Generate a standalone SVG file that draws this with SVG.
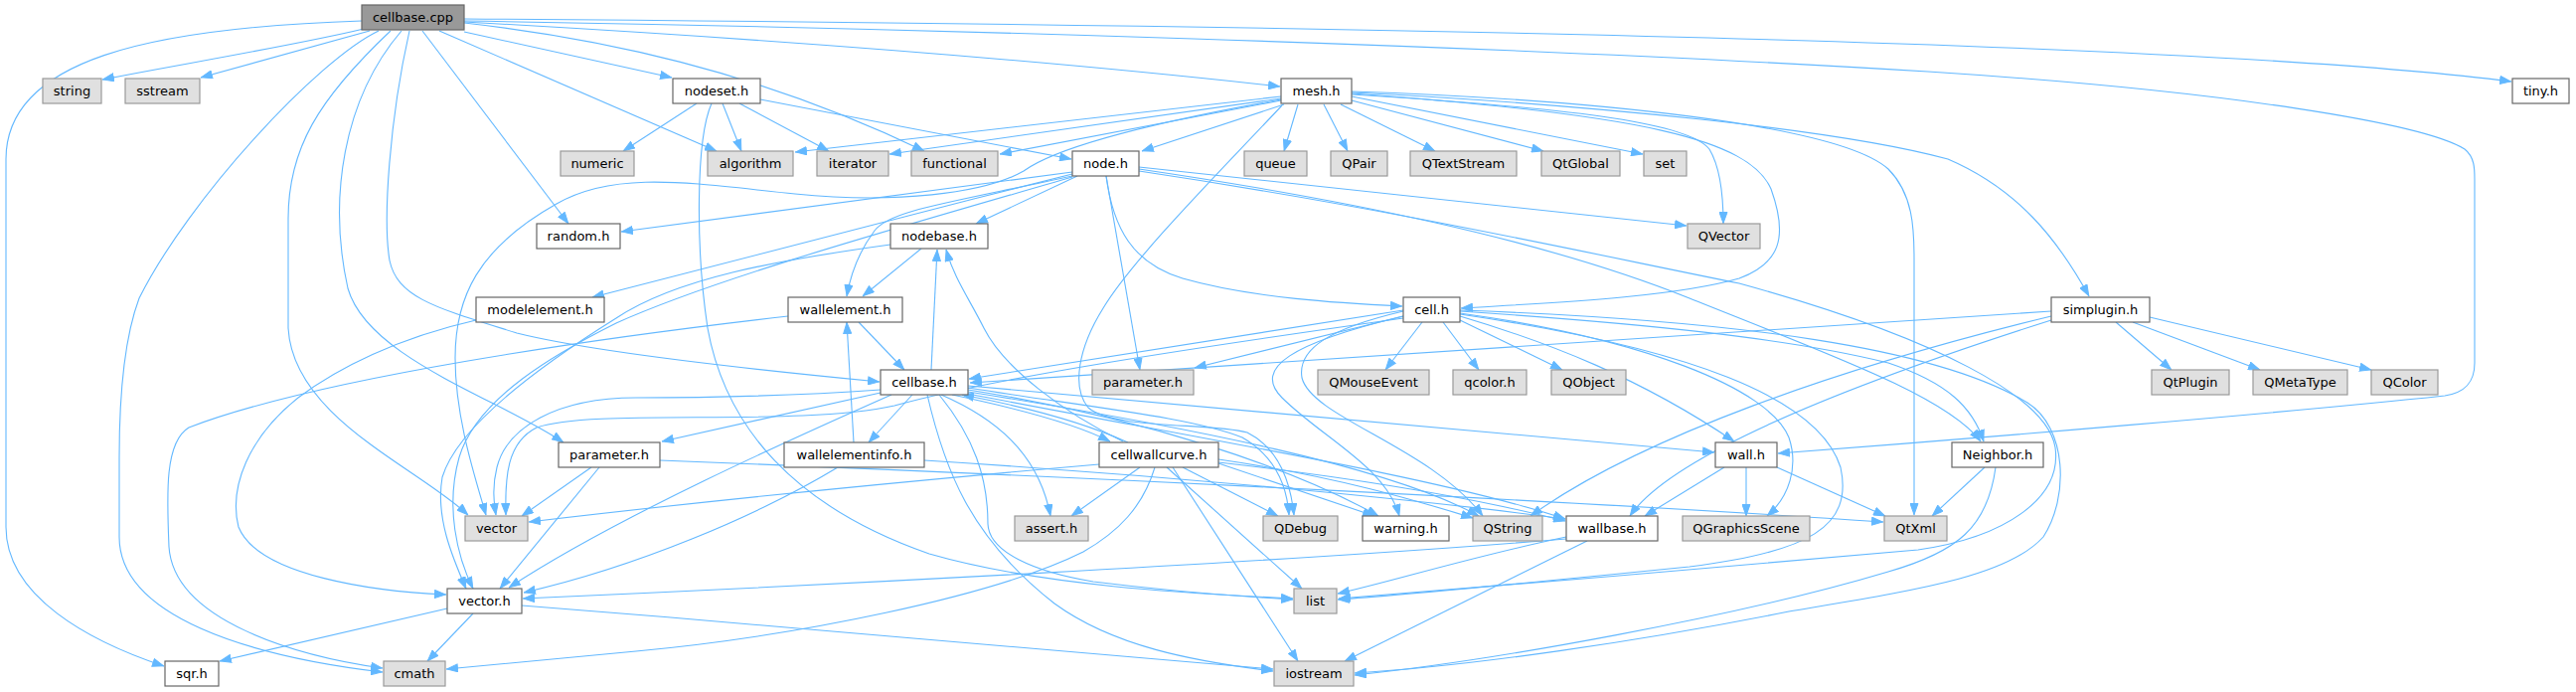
<svg xmlns="http://www.w3.org/2000/svg" width="2592" height="696" viewBox="0 0 2592 696">
<defs>
<marker id="a" viewBox="0 0 12 9" refX="12" refY="4.5" markerWidth="12" markerHeight="9" markerUnits="userSpaceOnUse" orient="auto">
<path d="M0.5,0.5 L11.5,4.5 L0.5,8.5 z" fill="#63b8ff" stroke="#63b8ff" stroke-width="1"/>
</marker>
<style>
.e path{fill:none;stroke:#63b8ff;stroke-width:1.1;marker-end:url(#a)}
.n rect{fill:#ffffff;stroke:#666666;stroke-width:1.2}
.g rect{fill:#e0e0e0;stroke:#999999;stroke-width:1.2}
.r rect{fill:#999999;stroke:#666666;stroke-width:1.2}
text{font-family:"DejaVu Sans","Liberation Sans",sans-serif;font-size:13px;text-anchor:middle;fill:#000000}
</style>
</defs>
<rect width="2592" height="696" fill="#ffffff"/>
<g id="edges" class="e">
<!-- cellbase.cpp -->
<path d="M366,29 C300,45 180,65 103,80"/>
<path d="M372,31 L202,78"/>
<path d="M364,21 C150,28 6,60 6,160 L6,530 C6,600 90,645 165,670"/>
<path d="M381,31 C320,60 190,200 140,300 C125,340 120,400 120,460 L120,540 C120,620 250,660 385,676"/>
<path d="M393,31 C320,100 290,150 290,220 L290,330 C295,420 420,470 471,518"/>
<path d="M404,31 C345,100 330,200 350,290 C370,360 500,400 567,445"/>
<path d="M412,31 C392,120 385,220 392,262 C400,300 440,310 520,335 C600,355 760,372 885,384"/>
<path d="M425,31 L572,225"/>
<path d="M442,31 L721,152"/>
<path d="M467,32 L676,78"/>
<path d="M467,23 C600,38 760,70 930,152"/>
<path d="M467,22 C700,35 1000,55 1288,87"/>
<path d="M467,19 C1300,25 2200,40 2527,82"/>
<path d="M467,21 C900,28 1500,45 1940,72 C2250,92 2440,125 2480,150 C2490,158 2490,170 2490,180 L2490,365 C2490,385 2480,395 2460,398 C2300,415 2000,440 1789,456"/>
<!-- nodeset.h -->
<path d="M701,104 L627,152"/>
<path d="M727,104 L746,152"/>
<path d="M744,104 L834,152"/>
<path d="M765,100 L1078,160"/>
<path d="M716,104 C700,140 700,250 712,330 C730,430 800,510 935,557 C1050,590 1200,597 1301,602"/>
<!-- mesh.h -->
<path d="M1289,97 L800,153"/>
<path d="M1289,99 L895,155"/>
<path d="M1289,101 L1006,155"/>
<path d="M1292,105 L1149,152"/>
<path d="M1306,105 L1292,152"/>
<path d="M1332,105 L1356,152"/>
<path d="M1349,105 L1444,152"/>
<path d="M1360,101 L1553,152"/>
<path d="M1360,97 L1653,155"/>
<path d="M1360,95 C1600,110 1700,125 1720,150 C1732,170 1734,200 1734,225"/>
<path d="M1360,94 C1650,115 1760,140 1782,190 C1800,240 1790,265 1750,280 C1680,300 1550,305 1470,310"/>
<path d="M1360,93 C1600,105 1850,130 1960,160 C2030,190 2070,240 2102,298"/>
<path d="M1360,92 C1600,100 1850,125 1900,170 C1925,195 1926,230 1926,260 L1926,518"/>
<path d="M1289,100 C1150,125 1060,150 1030,172 C990,195 900,205 800,195 C700,185 620,170 560,205 C480,250 458,300 458,360 C458,420 478,480 489,518"/>
<path d="M1290,106 C1230,170 1140,260 1110,310 C1085,350 1078,390 1095,410 C1120,432 1220,425 1255,435 C1285,450 1298,480 1302,518"/>
<!-- node.h -->
<path d="M1079,173 L625,233"/>
<path d="M1079,175 C900,220 700,272 596,299"/>
<path d="M1084,177 L982,225"/>
<path d="M1079,177 C950,205 895,212 880,232 C865,252 856,275 852,298"/>
<path d="M1079,178 C900,230 720,280 620,325 C560,355 480,400 462,460 C448,510 460,560 476,592"/>
<path d="M1113,177 C1120,230 1140,265 1190,280 C1260,300 1350,305 1411,308"/>
<path d="M1113,177 L1147,372"/>
<path d="M1146,168 L1697,227"/>
<path d="M1146,170 C1350,200 1550,240 1700,300 C1850,360 1960,400 1993,444"/>
<path d="M1146,172 C1400,210 1600,255 1750,285 C1950,340 2060,400 2068,450 C2075,500 2020,540 1930,553 C1800,565 1500,590 1347,602"/>
<!-- nodebase.h -->
<path d="M927,250 L868,298"/>
<path d="M896,246 C780,262 680,280 620,320 C540,370 460,430 445,480 C438,520 455,560 469,592"/>
<!-- cellbase.h -->
<path d="M937,372 L943,251"/>
<path d="M958,397 C1020,410 1080,425 1117,444"/>
<path d="M918,397 L874,445"/>
<path d="M886,395 L666,444"/>
<path d="M897,397 C800,440 620,520 512,591"/>
<path d="M886,392 C800,398 720,400 640,400 C560,400 510,430 500,470 C495,490 497,505 499,518"/>
<path d="M947,397 C1000,420 1045,455 1057,519"/>
<path d="M933,397 C950,470 975,540 1061,607 C1120,650 1200,665 1281,675"/>
<path d="M945,397 C980,440 994,480 994,527 C995,555 1040,575 1100,585 C1180,595 1250,600 1301,603"/>
<path d="M974,390 C1100,410 1200,420 1250,440 C1285,460 1295,490 1297,518"/>
<path d="M974,388 L1725,455"/>
<path d="M974,392 C1150,420 1300,470 1387,519"/>
<path d="M974,394 C1200,430 1400,470 1488,519"/>
<path d="M974,396 C1200,440 1450,480 1575,522"/>
<!-- wall.h -->
<path d="M1735,470 L1655,519"/>
<path d="M1757,470 L1757,519"/>
<path d="M1788,470 L1897,519"/>
<!-- cell.h -->
<path d="M1412,312 L975,381"/>
<path d="M1412,318 L1202,370"/>
<path d="M1431,324 L1394,372"/>
<path d="M1452,324 L1488,372"/>
<path d="M1469,322 L1572,372"/>
<path d="M1469,318 C1560,345 1650,380 1745,444"/>
<path d="M1469,313 C1650,325 1800,340 1900,365 C1960,385 1985,410 1996,444"/>
<path d="M1469,315 C1650,340 1780,390 1800,440 C1810,470 1800,500 1778,519"/>
<path d="M1469,316 C1700,350 1830,400 1852,470 C1865,530 1820,555 1700,570 C1550,585 1420,598 1346,603"/>
<path d="M1469,312 C1750,322 1950,350 2040,405 C2080,430 2082,500 2056,540 C2020,580 1930,593 1800,615 C1650,645 1480,670 1363,677"/>
<path d="M1412,313 C1340,330 1305,350 1310,380 C1320,420 1440,450 1492,519"/>
<path d="M1412,318 C1300,345 1260,370 1290,400 C1330,440 1395,470 1408,519"/>
<path d="M1412,320 C1200,350 1000,380 900,408 C800,430 600,410 540,430 C510,445 508,480 509,518"/>
<!-- simplugin.h -->
<path d="M2064,313 L976,385"/>
<path d="M2064,318 C1850,370 1650,440 1540,519"/>
<path d="M2064,322 C1850,390 1680,460 1640,519"/>
<path d="M2129,324 L2185,372"/>
<path d="M2146,324 L2274,372"/>
<path d="M2163,319 L2386,372"/>
<!-- Neighbor.h -->
<path d="M1997,470 L1944,519"/>
<path d="M2008,470 C2000,530 1970,555 1900,575 C1750,620 1500,665 1363,679"/>
<!-- wallbase.h -->
<path d="M1576,542 C1300,565 800,590 526,602"/>
<path d="M1576,540 C1480,560 1400,585 1346,597"/>
<path d="M1597,544 L1353,665"/>
<!-- wallelementinfo.h -->
<path d="M859,445 L852,324"/>
<path d="M843,470 C760,520 640,570 527,596"/>
<path d="M930,463 C1200,480 1450,505 1575,522"/>
<!-- wallelement.h -->
<path d="M864,324 L910,372"/>
<path d="M793,318 C600,340 320,380 190,430 C165,445 168,500 170,550 C175,625 300,660 385,672"/>
<!-- modelelement.h -->
<path d="M479,322 C400,340 340,370 300,400 C250,440 230,490 240,530 C260,580 380,595 449,598"/>
<!-- parameter.h -->
<path d="M595,470 L525,519"/>
<path d="M603,470 L503,592"/>
<path d="M664,463 C1100,480 1600,505 1895,525"/>
<!-- cellwallcurve.h -->
<path d="M1135,445 C1080,420 1010,405 968,397"/>
<path d="M1130,444 C1070,415 1010,370 990,330 C975,300 960,280 952,251"/>
<path d="M1106,467 C900,485 700,505 532,525"/>
<path d="M1147,470 L1078,519"/>
<path d="M1162,470 C1150,510 1125,535 1090,555 C1000,600 800,640 640,655 C560,662 500,668 449,673"/>
<path d="M1190,470 L1286,519"/>
<path d="M1174,470 L1310,592"/>
<path d="M1180,470 L1306,665"/>
<path d="M1226,466 L1383,519"/>
<path d="M1226,462 C1350,480 1430,505 1482,521"/>
<path d="M1226,465 C1400,485 1500,505 1575,524"/>
<!-- vector.h -->
<path d="M450,612 L221,665"/>
<path d="M476,617 L430,665"/>
<path d="M525,609 C800,630 1100,660 1281,673"/>
</g>
<g id="cellbase_cpp" class="r"><rect x="364" y="5" width="103" height="25"/><text x="415.5" y="22">cellbase.cpp</text></g>
<g id="string" class="g"><rect x="43" y="79" width="59" height="25"/><text x="72.5" y="96">string</text></g>
<g id="sstream" class="g"><rect x="126" y="79" width="75" height="25"/><text x="163.5" y="96">sstream</text></g>
<g id="nodeset_h" class="n"><rect x="677" y="79" width="88" height="25"/><text x="721" y="96">nodeset.h</text></g>
<g id="mesh_h" class="n"><rect x="1289" y="79" width="71" height="25"/><text x="1324.5" y="96">mesh.h</text></g>
<g id="tiny_h" class="n"><rect x="2528" y="79" width="57" height="25"/><text x="2556.5" y="96">tiny.h</text></g>
<g id="numeric" class="g"><rect x="564" y="152" width="74" height="25"/><text x="601" y="169">numeric</text></g>
<g id="algorithm" class="g"><rect x="712" y="152" width="86" height="25"/><text x="755" y="169">algorithm</text></g>
<g id="iterator" class="g"><rect x="822" y="152" width="72" height="25"/><text x="858" y="169">iterator</text></g>
<g id="functional" class="g"><rect x="917" y="152" width="87" height="25"/><text x="960.5" y="169">functional</text></g>
<g id="node_h" class="n"><rect x="1079" y="152" width="67" height="25"/><text x="1112.5" y="169">node.h</text></g>
<g id="queue" class="g"><rect x="1252" y="152" width="63" height="25"/><text x="1283.5" y="169">queue</text></g>
<g id="QPair" class="g"><rect x="1339" y="152" width="57" height="25"/><text x="1367.5" y="169">QPair</text></g>
<g id="QTextStream" class="g"><rect x="1419" y="152" width="107" height="25"/><text x="1472.5" y="169">QTextStream</text></g>
<g id="QtGlobal" class="g"><rect x="1551" y="152" width="79" height="25"/><text x="1590.5" y="169">QtGlobal</text></g>
<g id="set" class="g"><rect x="1654" y="152" width="43" height="25"/><text x="1675.5" y="169">set</text></g>
<g id="random_h" class="n"><rect x="540" y="225" width="84" height="25"/><text x="582" y="242">random.h</text></g>
<g id="nodebase_h" class="n"><rect x="896" y="225" width="98" height="25"/><text x="945" y="242">nodebase.h</text></g>
<g id="QVector" class="g"><rect x="1698" y="225" width="73" height="25"/><text x="1734.5" y="242">QVector</text></g>
<g id="modelelement_h" class="n"><rect x="479" y="299" width="129" height="25"/><text x="543.5" y="316">modelelement.h</text></g>
<g id="wallelement_h" class="n"><rect x="793" y="299" width="115" height="25"/><text x="850.5" y="316">wallelement.h</text></g>
<g id="cell_h" class="n"><rect x="1412" y="299" width="57" height="25"/><text x="1440.5" y="316">cell.h</text></g>
<g id="simplugin_h" class="n"><rect x="2064" y="299" width="99" height="25"/><text x="2113.5" y="316">simplugin.h</text></g>
<g id="cellbase_h" class="n"><rect x="886" y="372" width="88" height="25"/><text x="930" y="389">cellbase.h</text></g>
<g id="parameter_h_sys" class="g"><rect x="1099" y="372" width="102" height="25"/><text x="1150" y="389">parameter.h</text></g>
<g id="QMouseEvent" class="g"><rect x="1326" y="372" width="112" height="25"/><text x="1382" y="389">QMouseEvent</text></g>
<g id="qcolor_h" class="g"><rect x="1462" y="372" width="74" height="25"/><text x="1499" y="389">qcolor.h</text></g>
<g id="QObject" class="g"><rect x="1561" y="372" width="75" height="25"/><text x="1598.5" y="389">QObject</text></g>
<g id="QtPlugin" class="g"><rect x="2165" y="372" width="78" height="25"/><text x="2204" y="389">QtPlugin</text></g>
<g id="QMetaType" class="g"><rect x="2267" y="372" width="95" height="25"/><text x="2314.5" y="389">QMetaType</text></g>
<g id="QColor" class="g"><rect x="2386" y="372" width="67" height="25"/><text x="2419.5" y="389">QColor</text></g>
<g id="parameter_h" class="n"><rect x="562" y="445" width="102" height="25"/><text x="613" y="462">parameter.h</text></g>
<g id="wallelementinfo_h" class="n"><rect x="789" y="445" width="141" height="25"/><text x="859.5" y="462">wallelementinfo.h</text></g>
<g id="cellwallcurve_h" class="n"><rect x="1106" y="445" width="120" height="25"/><text x="1166" y="462">cellwallcurve.h</text></g>
<g id="wall_h" class="n"><rect x="1726" y="445" width="62" height="25"/><text x="1757" y="462">wall.h</text></g>
<g id="Neighbor_h" class="n"><rect x="1964" y="445" width="92" height="25"/><text x="2010" y="462">Neighbor.h</text></g>
<g id="vector" class="g"><rect x="468" y="519" width="63" height="25"/><text x="499.5" y="536">vector</text></g>
<g id="assert_h" class="g"><rect x="1021" y="519" width="74" height="25"/><text x="1058" y="536">assert.h</text></g>
<g id="QDebug" class="g"><rect x="1271" y="519" width="75" height="25"/><text x="1308.5" y="536">QDebug</text></g>
<g id="warning_h" class="n"><rect x="1371" y="519" width="87" height="25"/><text x="1414.5" y="536">warning.h</text></g>
<g id="QString" class="g"><rect x="1482" y="519" width="70" height="25"/><text x="1517" y="536">QString</text></g>
<g id="wallbase_h" class="n"><rect x="1576" y="519" width="92" height="25"/><text x="1622" y="536">wallbase.h</text></g>
<g id="QGraphicsScene" class="g"><rect x="1693" y="519" width="128" height="25"/><text x="1757" y="536">QGraphicsScene</text></g>
<g id="QtXml" class="g"><rect x="1896" y="519" width="63" height="25"/><text x="1927.5" y="536">QtXml</text></g>
<g id="vector_h" class="n"><rect x="450" y="592" width="75" height="25"/><text x="487.5" y="609">vector.h</text></g>
<g id="list" class="g"><rect x="1302" y="592" width="43" height="25"/><text x="1323.5" y="609">list</text></g>
<g id="sqr_h" class="n"><rect x="166" y="665" width="54" height="25"/><text x="193" y="682">sqr.h</text></g>
<g id="cmath" class="g"><rect x="386" y="665" width="62" height="25"/><text x="417" y="682">cmath</text></g>
<g id="iostream" class="g"><rect x="1282" y="665" width="80" height="25"/><text x="1322" y="682">iostream</text></g>
</svg>
